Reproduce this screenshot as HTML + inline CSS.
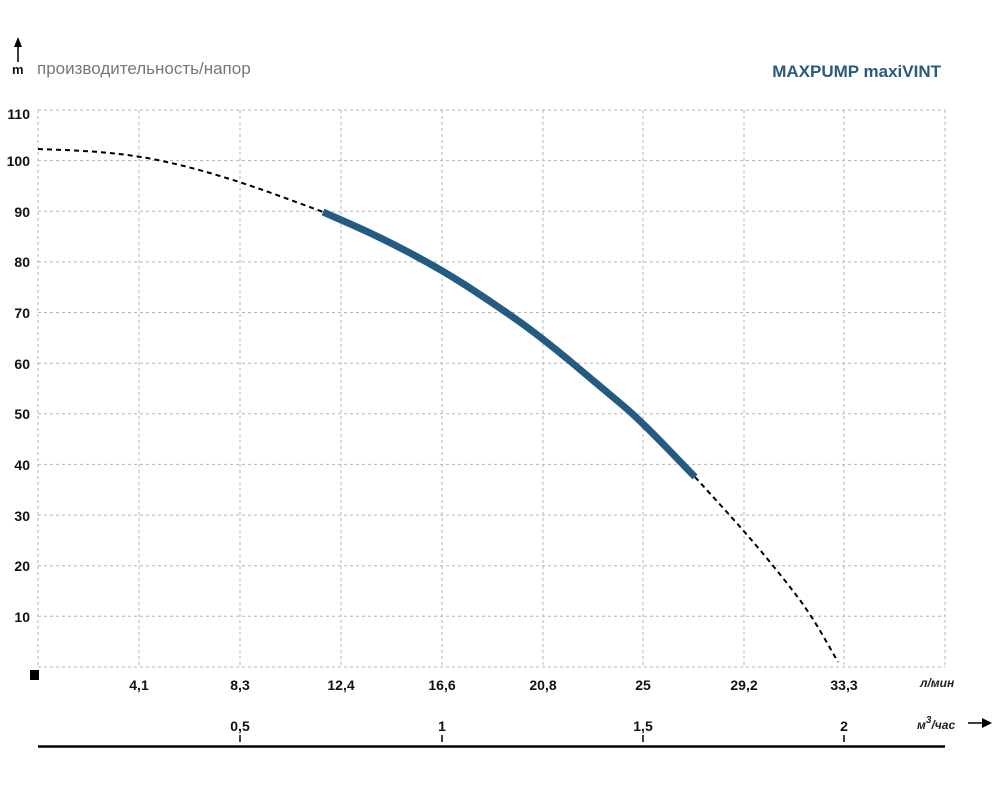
<!DOCTYPE html>
<html><head><meta charset="utf-8"><style>
body{margin:0;background:#fff;}
svg{display:block;font-family:"Liberation Sans",Arial,sans-serif;}
.t{font-size:14px;font-weight:bold;fill:#111;}
</style></head><body>
<svg width="1000" height="800" viewBox="0 0 1000 800">
<g stroke="#b5b5b5" stroke-width="1" stroke-dasharray="3,3" fill="none">
<path d="M38 110V667M139 110V667M240 110V667M341 110V667M442 110V667M543 110V667M643 110V667M744 110V667M844 110V667M945 110V667"/>
<path d="M38 110H945M38 160.6H945M38 211.3H945M38 261.9H945M38 312.5H945M38 363.2H945M38 413.8H945M38 464.4H945M38 515.1H945M38 565.7H945M38 616.3H945M38 667H945"/>
</g>
<g class="t" text-anchor="end">
<text x="30" y="119">110</text><text x="30" y="166">100</text><text x="30" y="217">90</text><text x="30" y="267">80</text><text x="30" y="318">70</text><text x="30" y="369">60</text><text x="30" y="419">50</text><text x="30" y="470">40</text><text x="30" y="521">30</text><text x="30" y="571">20</text><text x="30" y="622">10</text>
</g>
<rect x="30" y="670" width="9" height="10" fill="#000"/>
<g class="t" text-anchor="middle">
<text x="139" y="690">4,1</text><text x="240" y="690">8,3</text><text x="341" y="690">12,4</text><text x="442" y="690">16,6</text><text x="543" y="690">20,8</text><text x="643" y="690">25</text><text x="744" y="690">29,2</text><text x="844" y="690">33,3</text>
<text x="240" y="731">0,5</text><text x="442" y="731">1</text><text x="643" y="731">1,5</text><text x="844" y="731">2</text>
</g>
<g stroke="#000" stroke-width="1.5"><path d="M240 735V742M442 735V742M643 735V742M844 735V742"/></g>
<line x1="38" y1="746.5" x2="945" y2="746.5" stroke="#000" stroke-width="2.5"/>
<text x="920" y="687" font-size="12" font-style="italic" font-weight="bold" fill="#222">л/мин</text>
<text x="917" y="729" font-size="12" font-style="italic" font-weight="bold" fill="#222">м<tspan dy="-6" font-size="10">3</tspan><tspan dy="6">/час</tspan></text>
<path d="M968 723H984" stroke="#000" stroke-width="1.5"/><path d="M982 718L992 723L982 728Z" fill="#000"/>
<path d="M18 62V45" stroke="#000" stroke-width="1.5"/><path d="M14 47L18 37L22 47Z" fill="#000"/>
<text x="12" y="74" font-size="13" font-weight="bold" fill="#111">m</text>
<text x="37" y="74" font-size="17" fill="#777">производительность/напор</text>
<text x="941" y="77" text-anchor="end" font-size="17" font-weight="bold" fill="#2a5a7e">MAXPUMP maxiVINT</text>
<path d="M38 149 L64 150 Q90 151 114.5 153.5 Q139 156 164.5 161.5 Q190 167 215 174.5 Q240 182 260 189 Q280 196 301.5 204 L323 212" fill="none" stroke="#000" stroke-width="2" stroke-dasharray="5,4"/>
<path d="M323 212 L351.5 224.5 Q380 237 411 253.5 Q442 270 466 285.5 Q490 301 515 318.5 Q540 336 573.5 364 Q607 392 623.5 406 Q640 420 667.5 448.5 L695 477" fill="none" stroke="#245b82" stroke-width="7" stroke-linejoin="round"/>
<path d="M695 477 L720 504.5 Q745 532 762.5 553 Q780 574 795 593.5 Q810 613 824 637.5 L838 662" fill="none" stroke="#000" stroke-width="2" stroke-dasharray="5,4"/>
</svg>
</body></html>
